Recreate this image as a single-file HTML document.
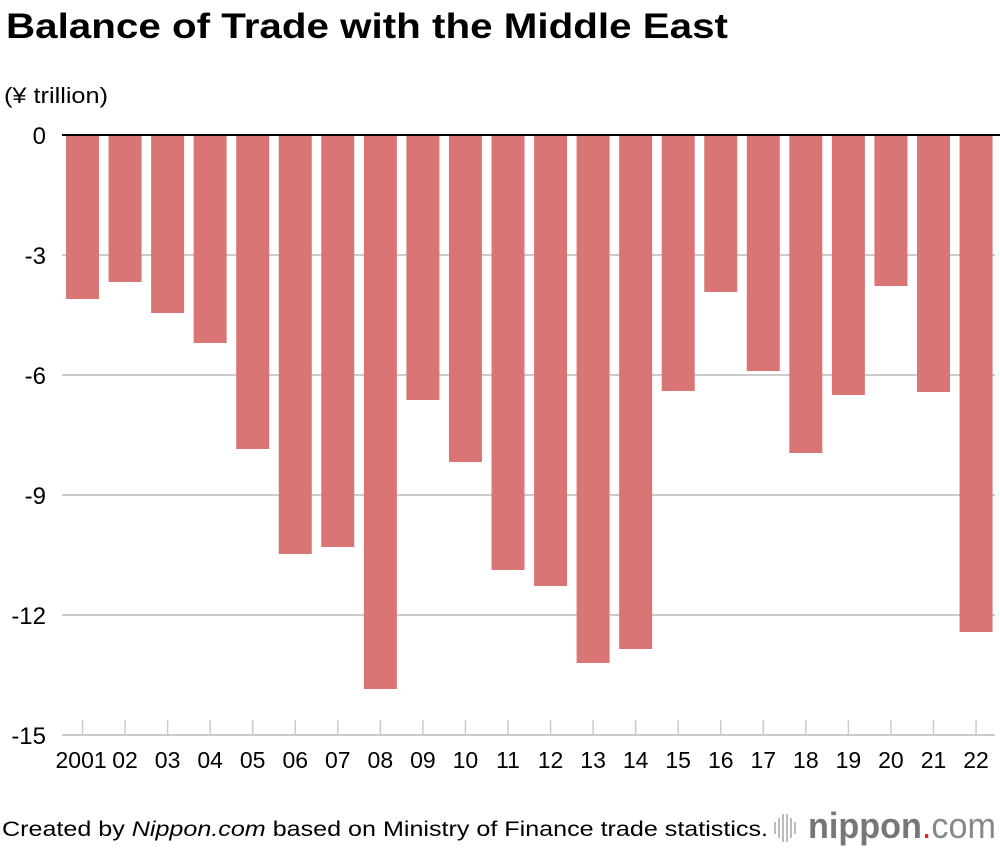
<!DOCTYPE html>
<html><head><meta charset="utf-8"><style>
body{margin:0;background:#fff;font-family:"Liberation Sans",Arial,sans-serif;}
#wrap{position:relative;width:1000px;height:848px;overflow:hidden}
</style></head><body>
<div id="wrap">
<svg id="chart" width="1000" height="848" xmlns="http://www.w3.org/2000/svg">
<text x="6" y="38" font-size="35" font-weight="bold" fill="#000" textLength="722" lengthAdjust="spacingAndGlyphs">Balance of Trade with the Middle East</text>
<text x="4" y="103" font-size="22" fill="#000" textLength="104" lengthAdjust="spacingAndGlyphs">(¥ trillion)</text>
<g id="grid"></g><g id="bars"></g><g id="axes"></g>
<text x="2" y="836" font-size="21" fill="#000" textLength="766" lengthAdjust="spacingAndGlyphs">Created by <tspan font-style="italic">Nippon.com</tspan> based on Ministry of Finance trade statistics.</text>
<g>
<g fill="#bbb"><rect x="774" y="822" width="2" height="12"/><rect x="778" y="818" width="2" height="20"/><rect x="782" y="814" width="2" height="28"/><rect x="786" y="814" width="2" height="28"/><rect x="790" y="818" width="2" height="20"/><rect x="794" y="822" width="2" height="12"/></g>
<text x="808" y="838" font-size="36" fill="#777" textLength="188" lengthAdjust="spacingAndGlyphs"><tspan font-weight="bold">nippon</tspan><tspan fill="#e02020">.</tspan><tspan fill="#888">com</tspan></text>
</g>
</svg>
</div>
<script>
const categories=["2001","02","03","04","05","06","07","08","09","10","11","12","13","14","15","16","17","18","19","20","21","22"];
const values=[-4.1,-3.675,-4.45,-5.2,-7.85,-10.475,-10.3,-13.85,-6.625,-8.175,-10.875,-11.275,-13.2,-12.85,-6.4,-3.925,-5.9,-7.95,-6.5,-3.775,-6.425,-12.425];
const yTicks=[0,-3,-6,-9,-12,-15];
const tickLabels=["0","-3","-6","-9","-12","-15"];
const NS="http://www.w3.org/2000/svg";
const y0=135,pxPerUnit=40,x0=62,x1=995;
function yScale(v){return y0-v*pxPerUnit;}
const step=42.55,first=82.5,bw=33;
function xScale(i){return first+i*step;}
function mk(tag,attrs,parent){const e=document.createElementNS(NS,tag);for(const k in attrs)e.setAttribute(k,attrs[k]);parent.appendChild(e);return e;}
const grid=document.getElementById('grid'),bars=document.getElementById('bars'),axes=document.getElementById('axes');
yTicks.forEach((t,i)=>{
  if(t!==0){const l=mk('line',{x1:x0,x2:x1,y1:yScale(t),y2:yScale(t),stroke:'#ccc','stroke-width':2},grid);
  
  }
  const tx=mk('text',{x:46,y:yScale(t)+9,'font-size':24,fill:'#000','text-anchor':'end'},axes);
  tx.textContent=tickLabels[i];
  
  
});
values.forEach((v,i)=>{
  const r=mk('rect',{x:xScale(i)-bw/2,y:yScale(0),width:bw,height:yScale(v)-yScale(0),fill:'#d97575'},bars);
  
  
  const tk=mk('line',{x1:xScale(i),x2:xScale(i),y1:720,y2:735,stroke:'#ccc','stroke-width':1.5},axes);
  
  
  const lb=mk('text',{x:i===0?xScale(i)-27:xScale(i),y:768,'font-size':23,fill:'#000','text-anchor':i===0?'start':'middle'},axes);
  lb.textContent=categories[i];
  
  
});
const base=mk('line',{x1:x0,x2:x1,y1:yScale(-15),y2:yScale(-15),stroke:'#ccc','stroke-width':2},axes);


const zero=mk('line',{x1:x0,x2:1000,y1:yScale(0),y2:yScale(0),stroke:'#000','stroke-width':2},axes);


</script>
</body></html>
